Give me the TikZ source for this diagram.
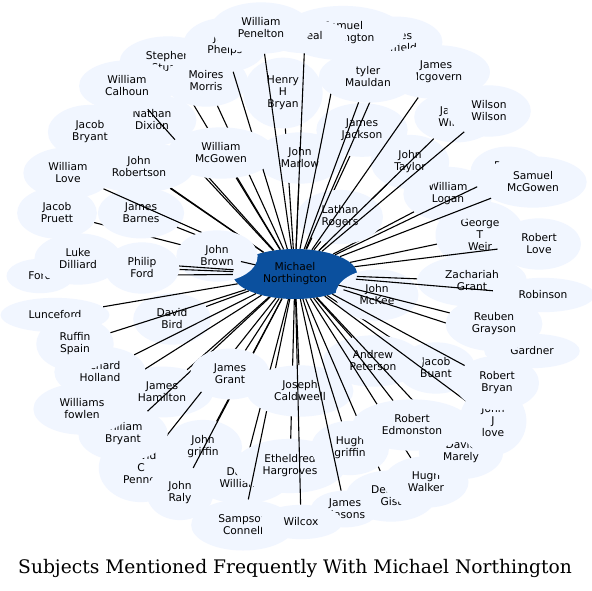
\documentclass[tikz,border=0pt]{standalone}
\usepackage{fontspec}
\newfontfamily\lblfont{DejaVu Sans}
\newfontfamily\ttlfont{DejaVu Serif}
\usetikzlibrary{shapes.geometric}
\definecolor{pale}{RGB}{241,246,255}
\definecolor{hubblue}{RGB}{11,80,158}
\newcommand\lblsize{\lblfont\fontsize{10.67}{12}\selectfont}
% a subject: pale cloud with its label, then its connector to the hub
\newcommand\nd[4][]{\node[blob,#1] (#2) at (#3) {#4};\draw[lnk] (c) -- (#2);}
\begin{document}
\begin{tikzpicture}[x=1pt,y=-1pt,
  blob/.style={ellipse, fill=pale, draw=none, text=black, inner xsep=12pt, inner ysep=8pt, align=center, font=\lblsize},
  lnk/.style={line width=1.1pt, black},
  hub/.style={ellipse, fill=hubblue, draw=none, minimum width=124pt, minimum height=50pt, inner sep=0pt, align=center, font=\lblsize, text=black}]
\useasboundingbox (0,0) rectangle (592,590);
\fill[white] (0,0) rectangle (592,590);
\node[hub] (c) at (295,274) {Michael\\Northington};
\nd{hen}{283,93}{Henry\\H\\Bryan}
\nd{mar}{300,158}{John\\Marlow}
\nd{dix}{152,120}{Nathan\\Dixion}
\nd{ste}{168,62}{Stephen\\Stuart}
\nd{mor}{206,81}{Moires\\Morris}
\nd{phe}{225,45}{John\\Phelps}
\nd{cal}{127,86}{William\\Calhoun}
\nd{jbr}{90,132}{Jacob\\Bryant}
\nd{rob}{139,167}{John\\Robertson}
\nd{pru}{57,213}{Jacob\\Pruett}
\nd{bar}{141,213}{James\\Barnes}
\nd{lov}{68,173}{William\\Love}
\nd{bir}{172,319}{David\\Bird}
\nd{ham}{162,392}{James\\Hamilton}
\nd{jgf}{203,447}{John\\griffin}
\nd{pentwo}{141,468}{David\\C\\Pennel}
\nd{wbr}{123,434}{William\\Bryant}
\nd{fow}{82,409}{Williams\\fowlen}
\nd{ral}{180,493}{John\\Raly}
\nd{dwi}{242,478}{David\\Williams}
\nd{eth}{290,466}{Etheldred\\Hargroves}
\nd{samtwo}{243,525}{Sampson\\Connell}
\nd{cald}{300,391}{Joseph\\Caldweell}
\nd{jbu}{436,368}{Jacob\\Buant}
\nd{and}{373,361}{Andrew\\Peterson}
\nd{wei}{480,235}{George\\T\\Weir}
\nd{log}{448,194}{William\\Logan}
\nd{tay}{410,162}{John\\Taylor}
\nd{jac}{362,130}{James\\Jackson}
\nd{bro}{217,256}{John\\Brown}
\nd{lat}{340,217}{Lathan\\Rogers}
\nd{mck}{377,295}{John\\McKee}
\nd{zac}{472,281}{Zachariah\\Grant}
\nd{ford}{40,276}{Ford}
\nd{dil}{78,259}{Luke\\Dilliard}
\nd{phf}{142,268}{Philip\\Ford}
\nd{fld}{396,42}{James\\Duffield}
\nd{sam}{343,33}{Samuel\\Washington}
\nd{neal}{305,36}{O'Neal}
\nd{pen}{261,28}{William\\Penelton}
\nd{mcg}{436,72}{James\\Mcgovern}
\nd{tyl}{368,77}{tyler\\Mauldan}
\nd{jwi}{456,117}{James\\Wilson}
\nd{wil}{489,111}{Wilson\\Wilson}
\nd{lun}{55,315}{Lunceford}
\nd{hol}{100,372}{Richard\\Holland}
\nd{ruf}{75,344}{Ruffin\\Spain}
\nd{jgr}{230,374}{James\\Grant}
\nd{del}{391,496}{Delbert\\Gist}
\nd{wal}{426,482}{Hugh\\Walker}
\nd{martwo}{461,452}{David\\Marely}
\nd{hgr}{350,448}{Hugh\\griffin}
\nd[inner xsep=4pt, inner ysep=3pt]{jma}{345,509}{James\\Masons}
\nd{wcx}{301,522}{Wilcox}
\nd{jjl}{493,421}{John\\J\\love}
\nd{rbr}{497,383}{Robert\\Bryan}
\nd{gar}{532,351}{Gardner}
\nd{reu}{494,324}{Reuben\\Grayson}
\nd{robn}{543,295}{Robinson}
\nd{rlo}{539,244}{Robert\\Love}
\nd{rfr}{508,172}{Peter\\Miller}
\nd{smc}{533,182}{Samuel\\McGowen}
\nd{mcgw}{221,153}{William\\McGowen}
\nd{edm}{412,425}{Robert\\Edmonston}
\node[font=\ttlfont\fontsize{18.67}{22}\selectfont, inner sep=0pt] (title) at (295,568) {Subjects Mentioned Frequently With Michael Northington};
\end{tikzpicture}
\end{document}
